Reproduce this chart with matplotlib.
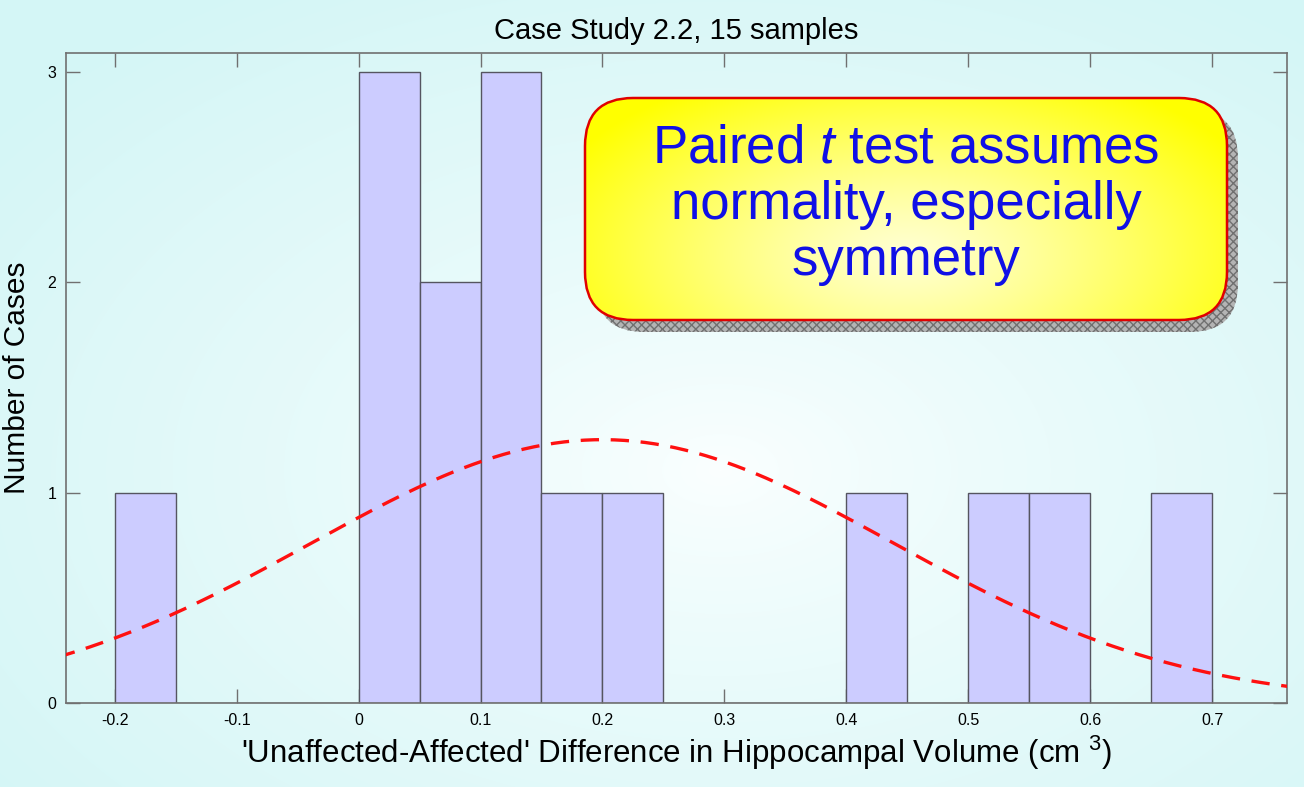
import numpy as np
import matplotlib
matplotlib.use("Agg")
import matplotlib.pyplot as plt
from matplotlib.patches import FancyBboxPatch

# =============================
# DATA
# =============================

bin_edges = [-0.20, -0.15, -0.10, -0.05, 0.00, 0.05, 0.10, 0.15, 0.20, 0.25,
             0.30, 0.35, 0.40, 0.45, 0.50, 0.55, 0.60, 0.65, 0.70]
bin_counts = [1, 0, 0, 0, 3, 2, 3, 1, 1, 0, 0, 0, 1, 0, 1, 1, 0, 1]

# normal fit
fit_mean = 0.20
fit_sd = 0.239
n_samples = 15
bin_width = 0.05

x_ticks = [-0.2, -0.1, 0, 0.1, 0.2, 0.3, 0.4, 0.5, 0.6, 0.7]
y_ticks = [0, 1, 2, 3]

TITLE = "Case Study 2.2, 15 samples"
XLABEL = "'Unaffected-Affected' Difference in Hippocampal Volume (cm $^{3}$)"
YLABEL = "Number of Cases"
NOTE = "Paired $t$ test assumes\nnormality, especially\nsymmetry"

# =============================
# STYLE
# =============================

plt.rcParams["font.family"] = ["Liberation Sans", "DejaVu Sans"]
plt.rcParams["mathtext.fontset"] = "custom"
plt.rcParams["mathtext.rm"] = "Liberation Sans"
plt.rcParams["mathtext.it"] = "Liberation Sans:italic"

W, H = 1304, 787
BAR_COLOR = "#CCCCFF"
BAR_EDGE = "#555560"
SPINE_COLOR = "#707070"
CURVE_COLOR = "#FF1010"

fig = plt.figure(figsize=(W / 100, H / 100), dpi=100)

# slide background: soft radial gradient
bg = fig.add_axes([0, 0, 1, 1], zorder=-10)
bg.set_axis_off()
yy, xx = np.mgrid[0:H, 0:W]
r = np.sqrt(((xx - 720) / 900.0) ** 2 + ((yy - 470) / 560.0) ** 2)
r = np.clip(r, 0, 1) ** 0.8
c0 = np.array([0.985, 1.0, 1.0])
c1 = np.array([0.835, 0.965, 0.965])
img = c0[None, None, :] * (1 - r[..., None]) + c1[None, None, :] * r[..., None]
bg.imshow(img, aspect="auto", extent=(0, W, H, 0))
bg.set_xlim(0, W)
bg.set_ylim(H, 0)

# =============================
# HISTOGRAM
# =============================

ax = fig.add_axes([66 / W, 1 - 703 / H, (1287 - 66) / W, (703 - 53) / H])
ax.patch.set_alpha(0)

ax.bar(bin_edges[:-1], bin_counts, width=bin_width, align="edge",
       color=BAR_COLOR, edgecolor=BAR_EDGE, linewidth=1.0, zorder=2)

xs = np.linspace(-0.3, 0.8, 400)
pdf = np.exp(-0.5 * ((xs - fit_mean) / fit_sd) ** 2) / (fit_sd * np.sqrt(2 * np.pi))
ax.plot(xs, n_samples * bin_width * pdf, color=CURVE_COLOR, linewidth=2.4,
        dashes=(5.5, 3.5), zorder=3)

ax.set_xlim(-0.24, 0.7615)
ax.set_ylim(0, 3.09)
ax.set_xticks(x_ticks)
ax.set_xticklabels([f"{t:g}" for t in x_ticks])
ax.set_yticks(y_ticks)

ax.tick_params(direction="in", length=10, width=1.0, color=SPINE_COLOR,
               top=True, right=True, labelsize=11.5, pad=7)
for spine in ax.spines.values():
    spine.set_color(SPINE_COLOR)
    spine.set_linewidth(1.2)

ax.set_title(TITLE, fontsize=21, pad=10)
ax.set_xlabel(XLABEL, fontsize=22.5, labelpad=4)
ax.set_ylabel(YLABEL, fontsize=21.5, labelpad=12)

# =============================
# NOTE BOX
# =============================

ov = fig.add_axes([0, 0, 1, 1], zorder=10)
ov.set_axis_off()
ov.set_xlim(0, W)
ov.set_ylim(H, 0)

bx, by, bw, bh = 585, 98, 642, 222
style = "round,pad=0,rounding_size=48"

shadow = FancyBboxPatch((bx + 11, by + 12), bw, bh, boxstyle=style,
                        facecolor="#b4b4b4", edgecolor="#707070",
                        hatch="xxxx", linewidth=0)
ov.add_patch(shadow)

box = FancyBboxPatch((bx, by), bw, bh, boxstyle=style,
                     facecolor="none", edgecolor="#E00000", linewidth=1.8,
                     zorder=3)
ov.add_patch(box)

gy, gx = np.mgrid[0:bh, 0:bw]
gr = np.sqrt(((gx - bw * 0.5) / (bw * 0.6)) ** 2 + ((gy - bh * 0.7) / (bh * 0.9)) ** 2)
gr = np.clip(gr, 0, 1) ** 1.2
y0 = np.array([1.0, 1.0, 0.82])
y1 = np.array([1.0, 1.0, 0.0])
gimg = y0[None, None, :] * (1 - gr[..., None]) + y1[None, None, :] * gr[..., None]
im = ov.imshow(gimg, aspect="auto", extent=(bx, bx + bw, by + bh, by), zorder=2)
im.set_clip_path(box)

ov.text(bx + bw / 2, by + bh / 2 - 4, NOTE, ha="center", va="center",
        fontsize=38, color="#1010E6", linespacing=1.16, zorder=4)

fig.savefig("out.png", dpi=100)
